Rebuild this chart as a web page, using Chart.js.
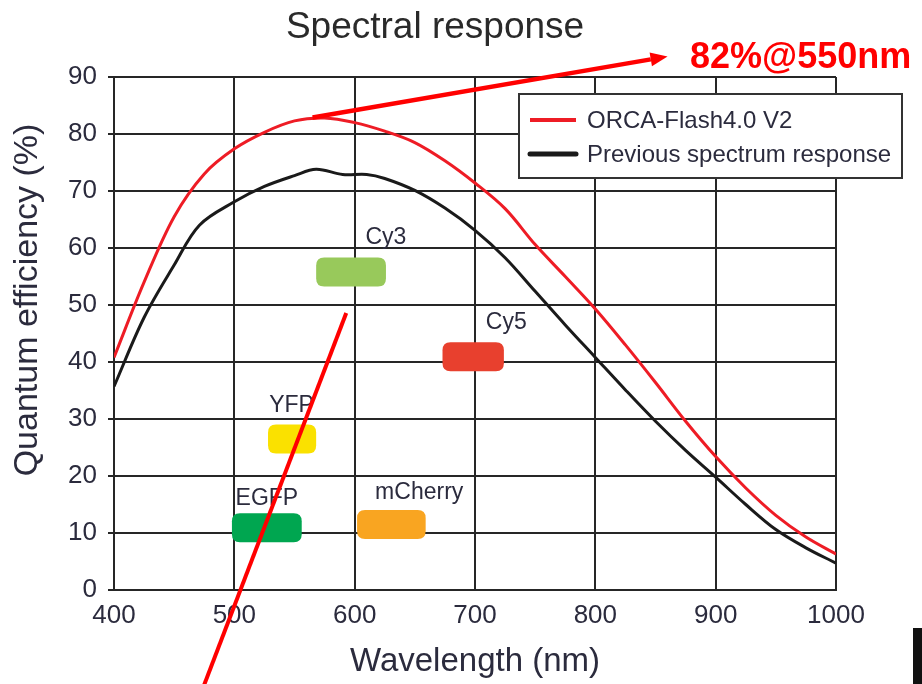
<!DOCTYPE html>
<html>
<head>
<meta charset="utf-8">
<title>Spectral response</title>
<script src="https://cdn.jsdelivr.net/npm/chart.js@4/dist/chart.umd.min.js"></script>
<style>
  html, body { margin: 0; padding: 0; background: #fff; }
  #qeChart { display: block; }
</style>
</head>
<body>
<canvas id="qeChart" width="922" height="684"></canvas>
<script>
// ORCA-Flash4.0 V2 quantum efficiency (nm -> %)
var orcaNm = [400, 425, 450, 475, 500, 525, 550, 575, 600, 625, 650, 675, 700, 725, 750, 775, 800, 825, 850, 875, 900, 925, 950, 975, 1000];
var orcaQE = [40.8, 54.0, 65.5, 73.0, 77.4, 80.3, 82.3, 82.8, 82.0, 80.5, 78.5, 75.3, 71.4, 66.9, 60.6, 55.0, 49.3, 43.0, 36.4, 29.6, 23.4, 17.9, 13.1, 9.3, 6.3];

// previous sensor generation
var prevNm = [400, 425, 450, 471, 500, 525, 550, 568, 590, 610, 625, 650, 675, 700, 725, 750, 775, 800, 825, 850, 875, 900, 925, 950, 975, 1000];
var prevQE = [35.7, 47.8, 57.0, 64.0, 68.1, 70.8, 72.7, 73.8, 72.9, 72.9, 72.2, 70.1, 67.0, 63.1, 58.3, 52.4, 46.5, 40.8, 35.1, 29.6, 24.5, 19.8, 15.0, 10.6, 7.4, 4.7];

// fluorophore emission bands
var dyeNames = ["Cy3", "Cy5", "YFP", "EGFP", "mCherry"];
var dyeStart = [568, 673, 528, 498, 602];
var dyeEnd = [626, 724, 568, 556, 659];
var dyeQE = [55.8, 40.9, 26.5, 10.9, 11.5];
var dyeLabelNm = [609, 709, 529, 501, 617];
var dyeLabelQE = [60.7, 45.8, 31.2, 15.0, 16.0];
var dyeColors = ["#98c95b", "#e8402e", "#fae100", "#00a650", "#f9a521"];

var xTicks = [400, 500, 600, 700, 800, 900, 1000];
var yTicks = [0, 10, 20, 30, 40, 50, 60, 70, 80, 90];

// callout: peak arrow and pointer line, in data units
var peakArrow = [[565, 82.9], [860, 93.6]];
var pointerLine = [[593, 48.6], [475, -16.6]];
var peakText = "82%@550nm";

var chartTitle = "Spectral response";
var yTitle = "Quantum efficiency (%)";

var textColor = "#2b2b3d";
var gridColor = "#262626";
var fontFamily = '"Liberation Sans", Arial, sans-serif';

function toPoints(xs, ys) {
    var out = [];
    for (var i = 0; i < xs.length; i++) out.push({x: xs[i], y: ys[i]});
    return out;
}

function roundRect(ctx, x, y, w, h, r) {
    ctx.beginPath();
    ctx.moveTo(x + r, y);
    ctx.lineTo(x + w - r, y);
    ctx.quadraticCurveTo(x + w, y, x + w, y + r);
    ctx.lineTo(x + w, y + h - r);
    ctx.quadraticCurveTo(x + w, y + h, x + w - r, y + h);
    ctx.lineTo(x + r, y + h);
    ctx.quadraticCurveTo(x, y + h, x, y + h - r);
    ctx.lineTo(x, y + r);
    ctx.quadraticCurveTo(x, y, x + r, y);
    ctx.closePath();
}

// title and rotated y title, placed by hand
var titles = {
    id: "titles",
    afterDraw: function(chart) {
        var ctx = chart.ctx;
        ctx.save();
        ctx.fillStyle = "#2a2a2a";
        ctx.font = "37px " + fontFamily;
        ctx.textAlign = "center";
        ctx.textBaseline = "alphabetic";
        ctx.fillText(chartTitle, 435, 38);

        ctx.fillStyle = textColor;
        ctx.font = "34px " + fontFamily;
        ctx.translate(28, 300);
        ctx.rotate(-Math.PI / 2);
        ctx.textBaseline = "middle";
        ctx.fillText(yTitle, 0, 0);
        ctx.restore();
    }
};

// dye bands drawn under the curves
var dyeBands = {
    id: "dyeBands",
    beforeDatasetsDraw: function(chart) {
        var ctx = chart.ctx, xs = chart.scales.x, ys = chart.scales.y;
        ctx.save();
        for (var i = 0; i < dyeNames.length; i++) {
            var x0 = xs.getPixelForValue(dyeStart[i]);
            var x1 = xs.getPixelForValue(dyeEnd[i]);
            var yc = ys.getPixelForValue(dyeQE[i]);
            ctx.fillStyle = dyeColors[i];
            roundRect(ctx, x0, yc - 14.5, x1 - x0, 29, 8);
            ctx.fill();
            ctx.fillStyle = textColor;
            ctx.font = "23px " + fontFamily;
            ctx.textAlign = "left";
            ctx.textBaseline = "alphabetic";
            ctx.fillText(dyeNames[i], xs.getPixelForValue(dyeLabelNm[i]), ys.getPixelForValue(dyeLabelQE[i]));
        }
        ctx.restore();
    }
};

// boxed legend inside the plot
var boxLegend = {
    id: "boxLegend",
    afterDatasetsDraw: function(chart) {
        var ctx = chart.ctx;
        var bx = 519, by = 94, bw = 383, bh = 84;
        ctx.save();
        ctx.fillStyle = "#fff";
        ctx.fillRect(bx, by, bw, bh);
        ctx.strokeStyle = "#333";
        ctx.lineWidth = 2;
        ctx.strokeRect(bx, by, bw, bh);
        chart.data.datasets.forEach(function(ds, i) {
            var ly = by + 26 + i * 34;
            ctx.strokeStyle = ds.borderColor;
            ctx.lineWidth = i == 0 ? 4 : 5;
            ctx.lineCap = i == 0 ? "butt" : "round";
            ctx.beginPath();
            ctx.moveTo(530, ly);
            ctx.lineTo(576, ly);
            ctx.stroke();
            ctx.fillStyle = textColor;
            ctx.font = "24px " + fontFamily;
            ctx.textAlign = "left";
            ctx.textBaseline = "middle";
            ctx.fillText(ds.label, 587, ly + 1);
        });
        ctx.restore();
    }
};

// red callout arrow, pointer and peak label
var callout = {
    id: "callout",
    afterDraw: function(chart) {
        var ctx = chart.ctx, xs = chart.scales.x, ys = chart.scales.y;
        function px(p) { return [xs.getPixelForValue(p[0]), ys.getPixelForValue(p[1])]; }
        var a0 = px(peakArrow[0]), a1 = px(peakArrow[1]);
        var ang = Math.atan2(a1[1] - a0[1], a1[0] - a0[0]);
        var head = 17;
        ctx.save();
        ctx.strokeStyle = "#ff0000";
        ctx.fillStyle = "#ff0000";
        ctx.lineWidth = 4.5;
        ctx.beginPath();
        ctx.moveTo(a0[0], a0[1]);
        ctx.lineTo(a1[0] - Math.cos(ang) * head, a1[1] - Math.sin(ang) * head);
        ctx.stroke();
        ctx.beginPath();
        ctx.moveTo(a1[0], a1[1]);
        ctx.lineTo(a1[0] - head * Math.cos(ang) + 7 * Math.sin(ang), a1[1] - head * Math.sin(ang) - 7 * Math.cos(ang));
        ctx.lineTo(a1[0] - head * Math.cos(ang) - 7 * Math.sin(ang), a1[1] - head * Math.sin(ang) + 7 * Math.cos(ang));
        ctx.closePath();
        ctx.fill();

        var p0 = px(pointerLine[0]), p1 = px(pointerLine[1]);
        ctx.lineWidth = 4;
        ctx.beginPath();
        ctx.moveTo(p0[0], p0[1]);
        ctx.lineTo(p1[0], p1[1]);
        ctx.stroke();

        ctx.font = "bold 36px " + fontFamily;
        ctx.textAlign = "left";
        ctx.textBaseline = "alphabetic";
        ctx.fillText(peakText, 690, 68);

        ctx.fillStyle = "#111";
        ctx.fillRect(913, 628, 9, 56);
        ctx.restore();
    }
};

var ctx = document.getElementById("qeChart").getContext("2d");
var chart = new Chart(ctx, {
    type: "line",
    data: {
        datasets: [
            {
                label: "ORCA-Flash4.0 V2",
                data: toPoints(orcaNm, orcaQE),
                borderColor: "#ee1c25",
                borderWidth: 3,
                pointRadius: 0,
                tension: 0.35
            },
            {
                label: "Previous spectrum response",
                data: toPoints(prevNm, prevQE),
                borderColor: "#1a1a1a",
                borderWidth: 3,
                pointRadius: 0,
                tension: 0.35
            }
        ]
    },
    options: {
        responsive: false,
        animation: false,
        devicePixelRatio: 1,
        layout: { padding: { top: 77, right: 86, left: 0, bottom: 0 } },
        plugins: {
            legend: { display: false },
            tooltip: { enabled: false },
            title: { display: false }
        },
        scales: {
            x: {
                type: "linear",
                min: xTicks[0],
                max: xTicks[xTicks.length - 1],
                afterBuildTicks: function(scale) {
                    scale.ticks = xTicks.map(function(v) { return {value: v}; });
                },
                afterFit: function(scale) { scale.height = 94; },
                grid: { color: gridColor, lineWidth: 2, drawTicks: false },
                border: { color: gridColor, width: 2 },
                ticks: {
                    color: textColor,
                    padding: 10,
                    maxRotation: 0,
                    callback: function(v) { return String(v); },
                    font: { family: fontFamily, size: 26 }
                },
                title: {
                    display: true,
                    text: "Wavelength (nm)",
                    color: textColor,
                    font: { family: fontFamily, size: 33 },
                    padding: { top: 0, bottom: 2 }
                }
            },
            y: {
                type: "linear",
                min: yTicks[0],
                max: yTicks[yTicks.length - 1],
                afterBuildTicks: function(scale) {
                    scale.ticks = yTicks.map(function(v) { return {value: v}; });
                },
                afterFit: function(scale) { scale.width = 114; },
                grid: { color: gridColor, lineWidth: 2, tickLength: 6 },
                border: { color: gridColor, width: 2 },
                ticks: {
                    color: textColor,
                    padding: 11,
                    callback: function(v) { return String(v); },
                    font: { family: fontFamily, size: 26 }
                }
            }
        }
    },
    plugins: [dyeBands, boxLegend, callout, titles]
});
</script>
</body>
</html>
